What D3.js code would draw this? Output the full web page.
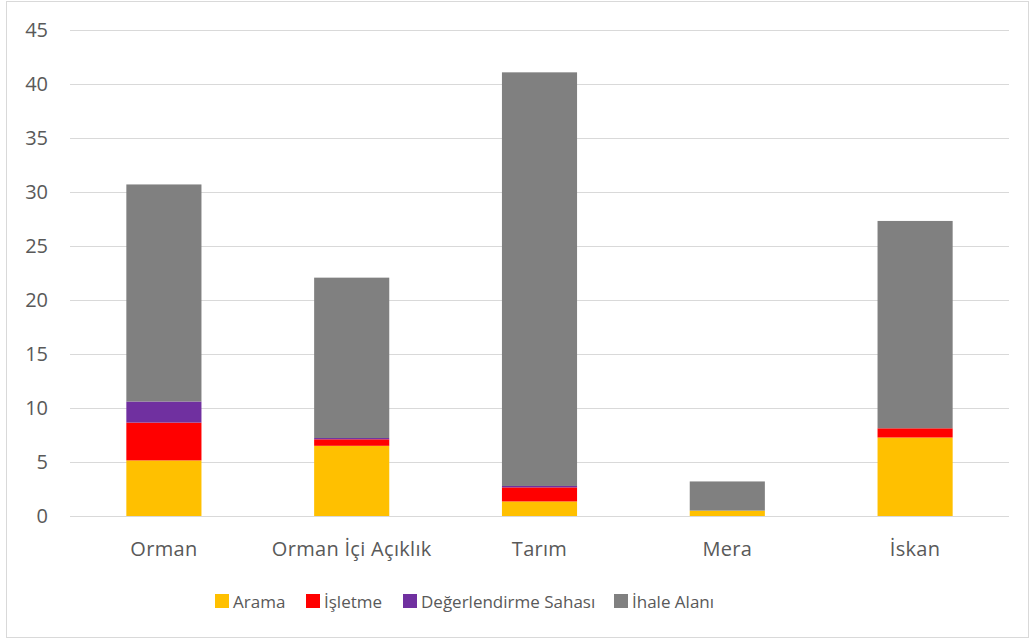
<!DOCTYPE html>
<html>
<head>
<meta charset="utf-8">
<script src="https://cdn.jsdelivr.net/npm/d3@7"></script>
<style>
  body { margin: 0; background: #fff; }
  text { font-family: "Open Sans", "Noto Sans", sans-serif; fill: #595959; }
</style>
</head>
<body>
<svg id="canvas" width="1034" height="642"></svg>
<script>
// chart values
var categories = ['Orman', 'Orman İçi Açıklık', 'Tarım', 'Mera', 'İskan'];
var seriesNames = ['Arama', 'İşletme', 'Değerlendirme Sahası', 'İhale Alanı'];
var seriesColors = ['#ffc000', '#ff0000', '#7030a0', '#808080'];
var arama = [5.15, 6.5, 1.35, 0.5, 7.27];
var isletme = [3.5, 0.6, 1.3, 0.0, 0.85];
var degerlendirme = [1.95, 0.12, 0.13, 0.0, 0.0];
var ihale = [20.1, 14.85, 38.3, 2.7, 19.2];
var yTicks = [0, 5, 10, 15, 20, 25, 30, 35, 40, 45];

var canvas = d3.select('#canvas');
var width = +canvas.attr('width');
var height = +canvas.attr('height');

var margin = { left: 70, right: 25, top: 30, bottom: 126 };

// outer chart border
canvas.append('rect')
  .attr('x', 6.5).attr('y', 1.5)
  .attr('width', 1022).attr('height', 636)
  .style('fill', 'none')
  .style('stroke', '#d9d9d9')
  .style('stroke-width', 1);

var rows = categories.map(function(c, i) {
  return { cat: c, 'Arama': arama[i], 'İşletme': isletme[i],
    'Değerlendirme Sahası': degerlendirme[i], 'İhale Alanı': ihale[i] };
});
var stacked = d3.stack().keys(seriesNames)(rows);

var xScale = d3.scaleBand()
  .domain(categories)
  .range([margin.left, width - margin.right])
  .paddingInner(0.6)
  .paddingOuter(0.3);

var yScale = d3.scaleLinear()
  .domain([0, 45])
  .range([height - margin.bottom, margin.top]);

// gridlines + y labels
var yAxis = d3.axisLeft(yScale)
  .tickValues(yTicks)
  .tickSize(-(width - margin.right - margin.left))
  .tickPadding(22);

var gy = canvas.append('g')
  .attr('transform', 'translate(' + margin.left + ',0)')
  .call(yAxis);
gy.select('.domain').remove();
gy.selectAll('line').style('stroke', '#d9d9d9').style('stroke-width', 1);
gy.selectAll('text').style('font-size', '20px').style('fill', '#595959')
  .attr('font-family', '"Open Sans", sans-serif');

// bars
canvas.append('g').selectAll('g')
  .data(stacked)
  .enter().append('g')
  .style('fill', function(d, i) { return seriesColors[i]; })
  .selectAll('rect')
  .data(function(d) { return d; })
  .enter().append('rect')
  .attr('x', function(d) { return xScale(d.data.cat); })
  .attr('y', function(d) { return yScale(d[1]); })
  .attr('width', xScale.bandwidth())
  .attr('height', function(d) { return yScale(d[0]) - yScale(d[1]); });

// x axis
var xAxis = d3.axisBottom(xScale).tickSize(0).tickPadding(26);
var gx = canvas.append('g')
  .attr('transform', 'translate(0,' + (height - margin.bottom) + ')')
  .call(xAxis);
gx.select('.domain').style('stroke', '#d9d9d9')
  .attr('d', 'M' + margin.left + ',0.5H' + (width - margin.right));
gx.selectAll('text').style('font-size', '20px').style('fill', '#595959')
  .style('letter-spacing', '0.3px')
  .attr('font-family', '"Open Sans", sans-serif');

// legend
var legendX = [215, 306, 403, 614];
var legend = canvas.append('g').selectAll('g')
  .data(seriesNames)
  .enter().append('g')
  .attr('transform', function(d, i) { return 'translate(' + legendX[i] + ',594)'; });
legend.append('rect')
  .attr('width', 14).attr('height', 14)
  .style('fill', function(d, i) { return seriesColors[i]; });
legend.append('text')
  .attr('x', 18).attr('y', 14)
  .style('font-size', '17px')
  .text(function(d) { return d; });
</script>
</body>
</html>
